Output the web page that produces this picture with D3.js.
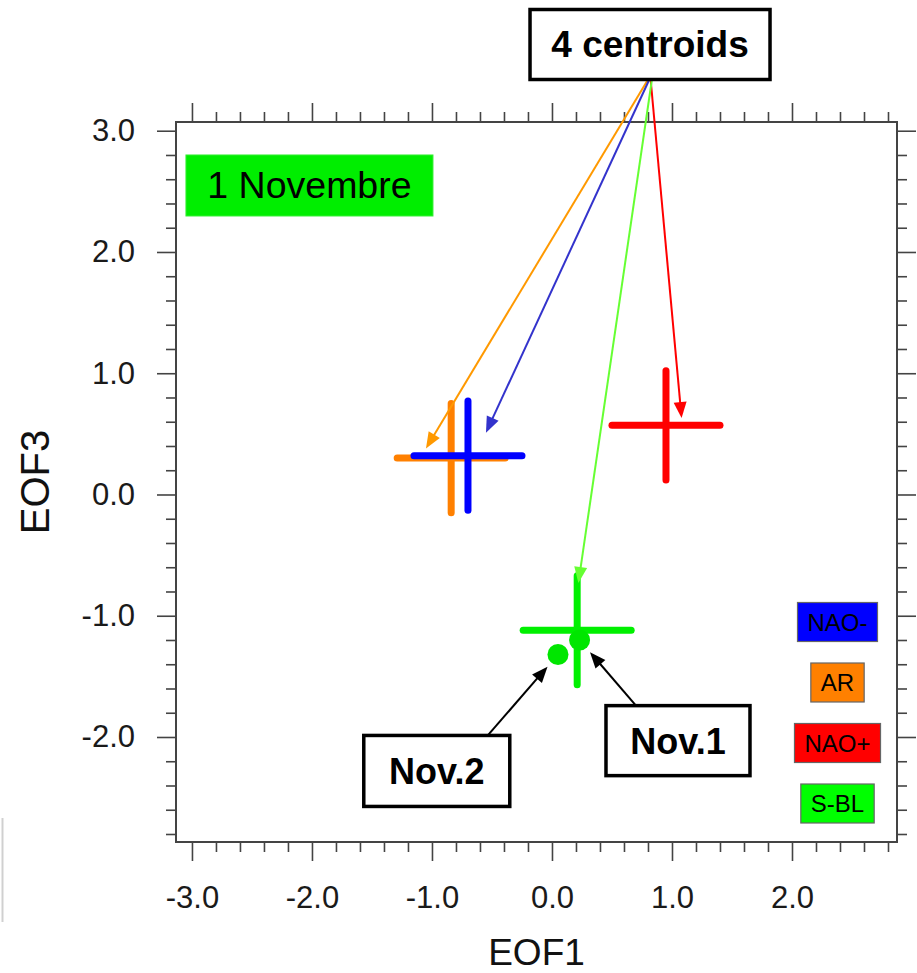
<!DOCTYPE html>
<html>
<head>
<meta charset="utf-8">
<script src="https://cdn.jsdelivr.net/npm/d3@7"></script>
<style>
  html, body { margin: 0; padding: 0; background: #fff; }
  svg { display: block; }
  text { font-family: "Liberation Sans", Arial, Helvetica, sans-serif; }
</style>
</head>
<body>
<svg id="chart" width="917" height="973"></svg>
<script>
// ---------------- DATA ----------------
const regimes      = ["AR", "NAO-", "NAO+", "S-BL"];
const regimeX      = [-0.84, -0.70, 0.95, 0.21];
const regimeY      = [0.30, 0.32, 0.57, -1.12];
const regimeSpread = [0.45, 0.45, 0.45, 0.45];
const regimeColors = ["#ff8000", "#0000ff", "#ff0000", "#00f000"];
const arrowColors  = ["#ff9900", "#3333cc", "#ff0000", "#66ff33"];
// arrow tips from the "4 centroids" label (data units)
const arrowTipX    = [-1.05, -0.55, 1.08, 0.22];
const arrowTipY    = [0.38, 0.51, 0.63, -0.73];

const days   = ["Nov.1", "Nov.2"];
const dayX   = [0.23, 0.05];
const dayY   = [-1.20, -1.32];
const dayLabelX = [1.05, -0.96];
const dayLabelY = [-2.03, -2.28];

const legendLabels = ["NAO-", "AR", "NAO+", "S-BL"];
const legendColors = ["#0000ff", "#ff8000", "#ff0000", "#00ff00"];

const xTicks = [-3, -2, -1, 0, 1, 2];
const yTicks = [-2, -1, 0, 1, 2, 3];
const xDomain = [-3.133, 2.875];
const yDomain = [-2.866, 3.072];

const titleText = "1 Novembre";
const centroidText = "4 centroids";
const xLabel = "EOF1";
const yLabel = "EOF3";

// ---------------- LAYOUT ----------------
const svg = d3.select("#chart");
const L = 176, R = 897, T = 122, B = 842;
const x = d3.scaleLinear().domain(xDomain).range([L, R]);
const y = d3.scaleLinear().domain(yDomain).range([B, T]);

const axisColor = "#444";
const tickFont = 31;
const fmt = d => d3.format(".1f")(d).replace("\u2212", "-");

function minorTicks(domain, step) {
  const out = [];
  const s = Math.ceil(domain[0] / step), e = Math.floor(domain[1] / step);
  for (let i = s; i <= e; i++) {
    const v = +(i * step).toFixed(3);
    if (Math.abs(v - Math.round(v)) > 1e-6) out.push(v);
  }
  return out;
}
const xMinor = minorTicks(xDomain, 0.2);
const yMinor = minorTicks(yDomain, 0.2);

function styleAxis(g) {
  g.select(".domain").remove();
  g.selectAll("line").attr("stroke", axisColor).attr("stroke-width", 1.6);
  g.selectAll("text").attr("fill", "#1a1a1a").style("font-size", tickFont + "px");
}

// major axes
svg.append("g").attr("transform", `translate(0,${B})`)
  .call(d3.axisBottom(x).tickValues(xTicks).tickSize(19).tickPadding(25).tickFormat(fmt))
  .call(styleAxis);
svg.append("g").attr("transform", `translate(0,${T})`)
  .call(d3.axisTop(x).tickValues(xTicks).tickSize(19).tickFormat(""))
  .call(styleAxis);
svg.append("g").attr("transform", `translate(${L},0)`)
  .call(d3.axisLeft(y).tickValues(yTicks).tickSize(19).tickPadding(22).tickFormat(fmt))
  .call(styleAxis);
svg.append("g").attr("transform", `translate(${R},0)`)
  .call(d3.axisRight(y).tickValues(yTicks).tickSize(19).tickFormat(""))
  .call(styleAxis);
// minor ticks
svg.append("g").attr("transform", `translate(0,${B})`)
  .call(d3.axisBottom(x).tickValues(xMinor).tickSize(10).tickFormat("")).call(styleAxis);
svg.append("g").attr("transform", `translate(0,${T})`)
  .call(d3.axisTop(x).tickValues(xMinor).tickSize(10).tickFormat("")).call(styleAxis);
svg.append("g").attr("transform", `translate(${L},0)`)
  .call(d3.axisLeft(y).tickValues(yMinor).tickSize(10).tickFormat("")).call(styleAxis);
svg.append("g").attr("transform", `translate(${R},0)`)
  .call(d3.axisRight(y).tickValues(yMinor).tickSize(10).tickFormat("")).call(styleAxis);

// frame
svg.append("rect").attr("x", L).attr("y", T).attr("width", R - L).attr("height", B - T)
  .attr("fill", "none").attr("stroke", axisColor).attr("stroke-width", 2);

// axis titles
svg.append("text").attr("x", (L + R) / 2).attr("y", 965).attr("text-anchor", "middle")
  .style("font-size", "37px").attr("fill", "#111").text(xLabel);
svg.append("text").attr("transform", `translate(49,${482}) rotate(-90)`).attr("text-anchor", "middle")
  .style("font-size", "40px").attr("fill", "#111").text(yLabel);

// faint artifact line at far left
svg.append("line").attr("x1", 2.5).attr("x2", 2.5).attr("y1", 818).attr("y2", 922)
  .attr("stroke", "#d0d0d0").attr("stroke-width", 2);

// title box
const tb = svg.append("g");
tb.append("rect").attr("x", x(-3.05)).attr("y", y(2.80)).attr("width", 247).attr("height", 61)
  .attr("fill", "#00ee00").attr("stroke", "#33ee33").attr("stroke-width", 1);
tb.append("text").attr("x", x(-3.05) + 123.5).attr("y", y(2.80) + 43.5).attr("text-anchor", "middle")
  .style("font-size", "37.5px").attr("fill", "#000").text(titleText);

// centroid crosses
const cross = svg.append("g");
regimes.forEach((r, i) => {
  const g = cross.append("g").attr("stroke", regimeColors[i]).attr("stroke-width", 7)
    .attr("stroke-linecap", "round");
  g.append("line").attr("x1", x(regimeX[i] - regimeSpread[i])).attr("x2", x(regimeX[i] + regimeSpread[i]))
    .attr("y1", y(regimeY[i])).attr("y2", y(regimeY[i]));
  g.append("line").attr("x1", x(regimeX[i])).attr("x2", x(regimeX[i]))
    .attr("y1", y(regimeY[i] - regimeSpread[i])).attr("y2", y(regimeY[i] + regimeSpread[i]));
});

// day dots
days.forEach((d, i) => {
  svg.append("circle").attr("cx", x(dayX[i])).attr("cy", y(dayY[i])).attr("r", 10.5)
    .attr("fill", "#00e600");
});

// arrow helper
function arrow(x1, y1, x2, y2, color, w, headL, headW) {
  const dx = x2 - x1, dy = y2 - y1, len = Math.hypot(dx, dy);
  const ux = dx / len, uy = dy / len;
  const bx = x2 - ux * headL, by = y2 - uy * headL;
  svg.append("line").attr("x1", x1).attr("y1", y1).attr("x2", bx + ux * 2).attr("y2", by + uy * 2)
    .attr("stroke", color).attr("stroke-width", w);
  const px = -uy, py = ux;
  svg.append("path")
    .attr("d", `M${x2},${y2}L${bx + px * headW},${by + py * headW}L${bx - px * headW},${by - py * headW}Z`)
    .attr("fill", color);
}

// "4 centroids" box and arrows
const cbCx = x(0.817), cbTop = 9.5, cbW = 240, cbH = 70;
regimes.forEach((r, i) => {
  arrow(cbCx - 2 + i * 1.3, cbTop + cbH, x(arrowTipX[i]), y(arrowTipY[i]), arrowColors[i], 2, 16, 6.5);
});
svg.append("rect").attr("x", cbCx - cbW / 2).attr("y", cbTop).attr("width", cbW).attr("height", cbH)
  .attr("fill", "#fff").attr("stroke", "#000").attr("stroke-width", 3.5);
svg.append("text").attr("x", cbCx).attr("y", cbTop + 47.5).attr("text-anchor", "middle")
  .style("font-size", "37px").style("font-weight", "bold").attr("fill", "#000").text(centroidText);

// day labels + arrows
const dayBoxW = [144, 146], dayBoxH = [70, 71];
days.forEach((d, i) => {
  const cx = x(dayLabelX[i]), cy = y(dayLabelY[i]);
  const top = cy - dayBoxH[i] / 2;
  const startX = i === 0 ? cx - 42 : cx + 51;
  const ddx = x(dayX[i]), ddy = y(dayY[i]);
  const ang = Math.atan2(ddy - top, ddx - startX);
  const tipX = ddx - Math.cos(ang) * 16, tipY = ddy - Math.sin(ang) * 16;
  arrow(startX, top, tipX, tipY, "#000", 2, 16, 6.5);
  svg.append("rect").attr("x", cx - dayBoxW[i] / 2).attr("y", top).attr("width", dayBoxW[i]).attr("height", dayBoxH[i])
    .attr("fill", "#fff").attr("stroke", "#000").attr("stroke-width", 3.5);
  svg.append("text").attr("x", cx).attr("y", cy + 13).attr("text-anchor", "middle")
    .style("font-size", "36px").style("font-weight", "bold").attr("fill", "#000").text(d);
});

// legend boxes
const legCx = 837.5, legY0 = 622, legStep = 60.5, legH = 39;
legendLabels.forEach((lab, i) => {
  const g = svg.append("g");
  const t = g.append("text").attr("x", legCx).attr("y", legY0 + i * legStep + 8.5)
    .attr("text-anchor", "middle").style("font-size", "24px").attr("fill", "#000").text(lab);
  const w = t.node().getComputedTextLength() + 20;
  g.insert("rect", "text").attr("x", legCx - w / 2).attr("y", legY0 + i * legStep - legH / 2)
    .attr("width", w).attr("height", legH).attr("fill", legendColors[i])
    .attr("stroke", "#666").attr("stroke-width", 1.2);
});
</script>
</body>
</html>
